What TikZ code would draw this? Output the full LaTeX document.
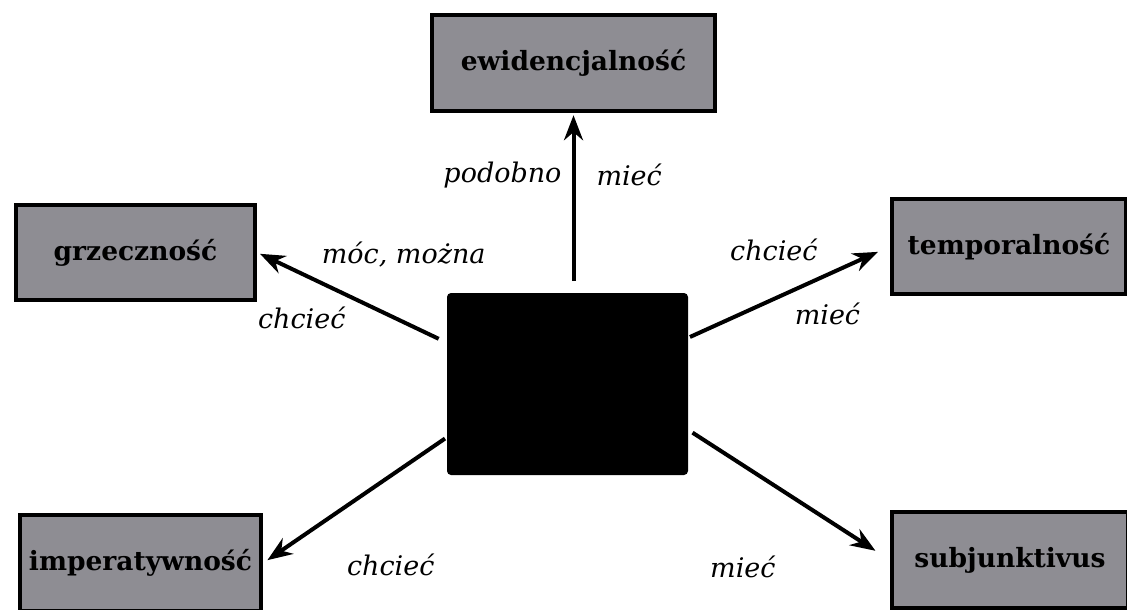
\documentclass[tikz,border=0pt]{standalone}
\usepackage{fontspec}
\setmainfont{DejaVu Serif}
\usepackage{tikz}
\usetikzlibrary{arrows.meta,positioning,shapes}
\usetikzlibrary{calc}

\definecolor{boxgray}{RGB}{142,141,147}

\begin{document}
\begin{tikzpicture}[x=1pt,y=-1pt,->,>={Stealth[length=25pt,width=19pt]},line width=4pt,
        box/.style={rectangle,draw=black,line width=4.5pt,fill=boxgray,inner sep=0pt,
          font=\bfseries\fontsize{26.5}{26.5}\selectfont},
        core/.style={rectangle,fill=black,rounded corners=4pt,minimum width=241pt,minimum height=182pt},
        lab/.style={inner sep=0pt,font=\itshape\fontsize{27}{27}\selectfont}]
        \useasboundingbox (0,0) rectangle (1127,610);
        \node[core] (core) at (567.5,384) {};
        \node[box,minimum width=283pt,minimum height=96pt] (ewi) at (573.5,63) {ewidencjalność};
        \node[box,minimum width=239pt,minimum height=95pt] (grz) at (135.5,252.5) {grzeczność};
        \node[box,minimum width=234pt,minimum height=95pt] (tem) at (1009,246.5) {temporalność};
        \node[box,minimum width=241pt,minimum height=96pt] (imp) at (140.5,563) {imperatywność};
        \node[box,minimum width=236pt,minimum height=96pt] (sub) at (1010,560) {subjunktivus};
        \path
          (core.north -| ewi.south) edge[shorten <=10pt,shorten >=2pt]
            node[lab,pos=.655,left=10pt] {podobno}
            node[lab,pos=.655,right=21pt] {mieć} (ewi.south)
          (core.161) edge[shorten <=7pt,shorten >=3pt]
            node[lab,pos=.22,yshift=68pt] {móc, można}
            node[lab,pos=.763,yshift=-44pt] {chcieć} (grz.east)
          (core.21) edge[shorten >=13pt]
            node[lab,pos=.42,yshift=49pt] {chcieć}
            node[lab,pos=.688,yshift=-39pt] {mieć} (tem.west)
          (core.204) edge[shorten >=5pt]
            node[lab,pos=.7,xshift=73pt,yshift=-39pt] {chcieć} (imp.east)
          (core.-21) edge[shorten <=3pt,shorten >=17pt]
            node[lab,pos=.7,xshift=-87pt,yshift=-46pt] {mieć} (sub.west)
          ;
\end{tikzpicture}
\end{document}
